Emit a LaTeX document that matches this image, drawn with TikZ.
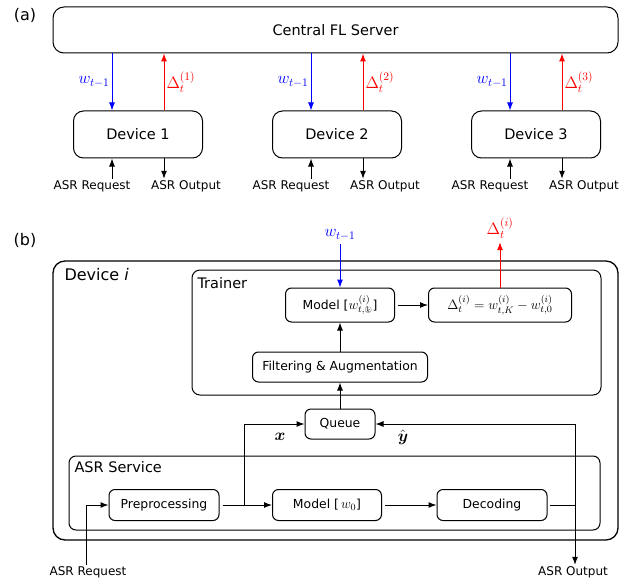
\RequirePackage{fix-cm}
\documentclass[tikz,border=0pt]{standalone}
\usepackage{amsmath}
\usepackage{amssymb}
\usepackage{graphicx}
\usepackage{fontspec}
\setmainfont{DejaVu Sans}
\usetikzlibrary{arrows.meta,positioning}
\tikzset{>={Latex[length=8pt,width=6pt]}}
\tikzset{box/.style={draw,rounded corners=6pt,minimum height=31pt,inner sep=2pt,font=\fontsize{12.4}{14}\selectfont}}
\tikzset{devbox/.style={draw,rounded corners=10pt,minimum width=129pt,minimum height=47pt,font=\fontsize{14.5}{17}\selectfont}}
\tikzset{lbl/.style={font=\fontsize{12}{14}\selectfont,inner sep=1pt}}
\tikzset{mathlbl/.style={font=\fontsize{16.5}{18}\selectfont,inner sep=3pt}}
\tikzset{sect/.style={font=\fontsize{14.5}{17}\selectfont,inner sep=2pt}}
\tikzset{panel/.style={font=\fontsize{16}{18}\selectfont,inner sep=2pt}}
\newcommand{\cyck}{\ooalign{$\scriptstyle\circlearrowright$\cr\hidewidth$\scriptscriptstyle k$\hidewidth\cr}}
\newcommand{\bigmath}[1]{\scalebox{1.1}{$#1$}}

\begin{document}
\begin{tikzpicture}[x=1pt,y=-1pt,line width=1pt]
\useasboundingbox (0,0) rectangle (628,580);
% (a) server and devices
\node[panel] (pa) at (25,15) {(a)};
\node[draw,rounded corners=11pt,minimum width=565pt,minimum height=46pt,font=\fontsize{14.5}{17}\selectfont] (server) at (335.5,30) {Central FL Server};
\foreach \i/\x in {1/138,2/337,3/536}{
  \node[devbox] (dev\i) at (\x,134.5) {Device \i};
  \coordinate (dn\i) at ([xshift=-26pt]dev\i.north);
  \coordinate (up\i) at ([xshift=26pt]dev\i.north);
  \node[lbl] (req\i) at (\x-46,186) {ASR Request};
  \node[lbl] (out\i) at (\x+48,186) {ASR Output};
  \draw[->,blue] (server.south -| dn\i) -- node[left,mathlbl,inner sep=2pt] {$w_{t-1}$} (dn\i);
  \draw[->,red] (up\i) -- node[right,mathlbl,inner sep=2pt] {$\Delta_t^{(\i)}$} (server.south -| up\i);
  \draw[->] (req\i.north -| dn\i) -- (dn\i |- dev\i.south);
  \draw[->] (up\i |- dev\i.south) -- (out\i.north -| up\i);
}
% (b) one device
\node[panel] (pb) at (25,240) {(b)};
\draw[line width=1.3pt,rounded corners=12pt] (53,261) rectangle (618,540);
\node[panel,anchor=north west] (devi) at (62,266) {Device \textit{i}};
\draw[rounded corners=8pt] (192,270) rectangle (601,395);
\node[sect,anchor=north west] (trn) at (195,275) {Trainer};
\draw[rounded corners=7pt] (69,456) rectangle (600,530);
\node[sect,anchor=north west] (svc) at (72,459) {ASR Service};
\node[box,minimum width=109pt,minimum height=34pt] (mdl) at (340,305) {Model [\bigmath{w^{(i)}_{t,\cyck}}]};
\node[box,minimum width=143pt,minimum height=34pt] (dlt) at (500,305) {\bigmath{\Delta_t^{(i)}=w^{(i)}_{t,K}-w^{(i)}_{t,0}}};
\node[box,minimum width=175pt,minimum height=30pt] (flt) at (340,367) {Filtering \& Augmentation};
\node[box,minimum width=70pt,minimum height=30pt] (que) at (340,424) {Queue};
\node[box,minimum width=110pt] (pre) at (164,505) {Preprocessing};
\node[box,minimum width=109pt] (mw0) at (327,505) {Model [\,\bigmath{w_0}]};
\node[box,minimum width=110pt] (dec) at (492,505) {Decoding};
\node[mathlbl,blue] (win) at (340,235) {$w_{t-1}$};
\node[mathlbl,red] (dout) at (500,228) {$\Delta_t^{(i)}$};
\node[lbl] (reqb) at (88,572) {ASR Request};
\node[lbl] (outb) at (573,572) {ASR Output};
\node[mathlbl] (xl) at (280,437) {$\boldsymbol{x}$};
\node[mathlbl] (yl) at (403,437) {$\hat{\boldsymbol{y}}$};
\coordinate (split) at (244,505);
\coordinate (tap) at (575,424);
\draw[->,blue] (win) -- (mdl);
\draw[->,red] (dlt) -- (dout);
\draw[->,shorten <=3pt] (mdl) -- (dlt);
\draw[->] (flt) -- (mdl);
\draw[->] (que) -- (flt);
\draw[->] ([xshift=-2pt]reqb.north) |- (pre.west);
\draw[->,shorten <=3pt] (pre) -- (mw0);
\draw[->] (split) |- (que.west);
\draw[->,shorten <=3pt] (mw0) -- (dec);
\draw[shorten <=2pt] (dec.east) -- (dec.east -| tap);
\draw[->] (tap) -- (outb.north -| tap);
\draw[->] (tap) -- (que.east);
\end{tikzpicture}
\end{document}
